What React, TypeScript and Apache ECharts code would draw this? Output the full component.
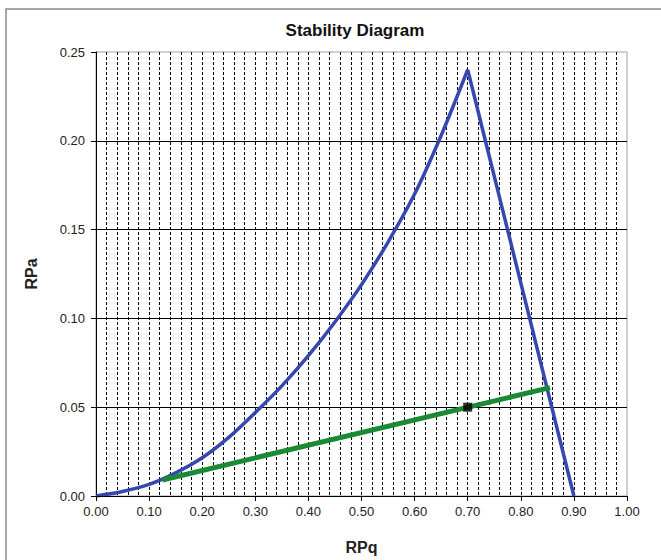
import React, { useEffect, useRef } from "react";
import * as echarts from "echarts";

const riseX = [0, 0.05, 0.1, 0.15, 0.2, 0.25, 0.3, 0.35, 0.4, 0.45, 0.5, 0.55, 0.6, 0.65, 0.7];
const riseY = [0, 0.0025, 0.0065, 0.013, 0.0215, 0.033, 0.047, 0.062, 0.079, 0.098, 0.119, 0.143, 0.17, 0.203, 0.24];
const fallX = [0.7, 0.9];
const fallY = [0.24, 0];
const lineX = [0.125, 0.855];
const lineY = [0.009, 0.061];
const pointX = [0.7];
const pointY = [0.05];

const FONT = "Liberation Sans, Arial, sans-serif";

export default function App() {
  const ref = useRef<HTMLDivElement>(null);
  useEffect(() => {
    if (!ref.current) return;
    const chart = echarts.init(ref.current, undefined, { renderer: "svg" });
    const zip = (xs: number[], ys: number[]) => xs.map((x, i) => [x, ys[i]]);
    const blue = "#3548b0";
    chart.setOption({
      animation: false,
      backgroundColor: "#fff",
      title: {
        text: "Stability Diagram",
        left: 350,
        top: 17,
        textAlign: "center",
        textStyle: { fontFamily: FONT, fontSize: 17, fontWeight: "bold", color: "#111" },
      },
      graphic: [
        {
          type: "rect",
          shape: { x: 6, y: 9, width: 700, height: 600 },
          style: { fill: "none", stroke: "#8a8a8a", lineWidth: 1.5 },
          silent: true,
        },
      ],
      grid: {
        left: 96,
        right: 34,
        top: 52,
        bottom: 63,
        show: true,
        borderColor: "#a0a0a0",
        borderWidth: 1,
        backgroundColor: "transparent",
      },
      xAxis: [
        {
          type: "value",
          min: 0,
          max: 1,
          interval: 0.1,
          name: "RPq",
          nameLocation: "middle",
          nameGap: 43,
          nameTextStyle: { fontFamily: FONT, fontSize: 16, fontWeight: "bold", color: "#222" },
          axisLine: { show: true, onZero: false, lineStyle: { color: "#000", width: 1 } },
          axisTick: { show: true, length: 5, lineStyle: { color: "#000" } },
          axisLabel: {
            formatter: (v: number) => v.toFixed(2),
            fontFamily: FONT,
            fontSize: 13,
            color: "#222",
            margin: 9,
          },
          splitLine: { show: false },
          z: 5,
        },
        {
          type: "value",
          min: 0,
          max: 1,
          interval: 0.02,
          position: "bottom",
          axisLine: { show: false },
          axisTick: { show: false },
          axisLabel: { show: false },
          splitLine: {
            show: true,
            showMinLine: false,
            showMaxLine: false,
            lineStyle: { color: "#000", width: 1, type: [3, 2] },
          },
        },
      ],
      yAxis: {
        type: "value",
        min: 0,
        max: 0.25,
        interval: 0.05,
        name: "RPa",
        nameLocation: "middle",
        nameGap: 57,
        nameRotate: 90,
        nameTextStyle: { fontFamily: FONT, fontSize: 16, fontWeight: "bold", color: "#222" },
        axisLine: { show: true, onZero: false, lineStyle: { color: "#000", width: 1 } },
        axisTick: { show: true, length: 5, lineStyle: { color: "#000" } },
        axisLabel: {
          formatter: (v: number) => v.toFixed(2),
          fontFamily: FONT,
          fontSize: 13,
          color: "#222",
          margin: 11,
        },
        splitLine: {
          show: true,
          showMaxLine: false,
          lineStyle: { color: "#000", width: 1, type: "solid" },
        },
      },
      series: [
        {
          type: "line",
          data: zip(riseX, riseY),
          showSymbol: false,
          smooth: 0.3,
          lineStyle: { color: blue, width: 3.5 },
          z: 3,
        },
        {
          type: "line",
          data: zip(fallX, fallY),
          showSymbol: false,
          lineStyle: { color: blue, width: 3.5 },
          z: 3,
        },
        {
          type: "line",
          data: zip(lineX, lineY),
          showSymbol: false,
          lineStyle: { color: "#1a8a34", width: 5 },
          z: 4,
        },
        {
          type: "scatter",
          data: zip(pointX, pointY),
          symbol: "rect",
          symbolSize: 9,
          itemStyle: { color: "#000" },
          z: 5,
        },
      ],
    });
    return () => chart.dispose();
  }, []);
  return (
    <div
      ref={ref}
      style={{ position: "fixed", left: 0, top: 0, width: 661, height: 560 }}
    />
  );
}
